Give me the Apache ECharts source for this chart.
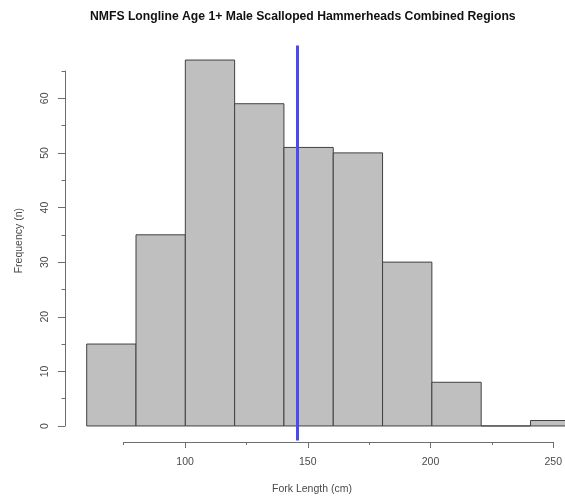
<!DOCTYPE html>
<html>
<head>
<meta charset="utf-8">
<script src="https://cdn.jsdelivr.net/npm/echarts@6/dist/echarts.min.js"></script>
<style>
  html, body { margin: 0; padding: 0; background: #fff; }
  #chart { width: 565px; height: 499px; }
</style>
</head>
<body>
<div id="chart"></div>
<script>
// histogram bins (fork length, cm) and counts
const binStarts = [60, 80, 100, 120, 140, 160, 180, 200, 220, 240];
const binEnds = [80, 100, 120, 140, 160, 180, 200, 220, 240, 260];
const counts = [15, 35, 67, 59, 51, 50, 30, 8, 0, 1];
const meanLength = 145.4;

const yMajorTicks = [0, 10, 20, 30, 40, 50, 60];
const yMinorTicks = [5, 15, 25, 35, 45, 55, 65];
const xMajorTicks = [100, 150, 200, 250];
const xMinorTicks = [75, 125, 175, 225];

const font = "'Liberation Sans', Arial, sans-serif";
const axisGrey = '#6e6e6e';
const labelGrey = '#4a4a4a';

const histData = binStarts.map((s, i) => [s, binEnds[i], counts[i]]);
const yPad = 0.04 * Math.max(...counts);

const myChart = echarts.init(document.getElementById('chart'));

const option = {
  animation: false,
  backgroundColor: '#fff',
  title: {
    text: 'NMFS Longline Age 1+ Male Scalloped Hammerheads Combined Regions',
    left: 90,
    top: 11,
    padding: 0,
    textStyle: { fontFamily: font, fontSize: 12.2, fontWeight: 'bold', color: '#111' },
  },
  graphic: [
    {
      type: 'text', left: 272, top: 484,
      style: { text: 'Fork Length (cm)', font: '10.5px ' + font, fill: labelGrey },
    },
    {
      type: 'text', left: 14, top: 208, rotation: Math.PI / 2,
      style: { text: 'Frequency (n)', font: '10.5px ' + font, fill: labelGrey },
    },
  ],
  grid: [
    // plot region for bars
    { left: 86.7, width: 478.3, top: 45.4, bottom: 58.4 },
    // visible x axis
    { left: 123.7, right: 10, top: 71, bottom: 57 },
    // visible y axis
    { left: 65, width: 100, top: 71, bottom: 73 },
  ],
  xAxis: [
    { gridIndex: 0, type: 'value', min: 60, max: 254, show: false },
    {
      gridIndex: 1, type: 'value', min: 75, max: 250, position: 'bottom',
      splitLine: { show: false },
      axisLine: { show: true, lineStyle: { color: axisGrey, width: 1 } },
      axisTick: { show: true, length: 6, customValues: xMajorTicks, lineStyle: { color: axisGrey } },
      axisLabel: { customValues: xMajorTicks, margin: 15, fontFamily: font, fontSize: 10.5, color: labelGrey },
    },
    {
      gridIndex: 1, type: 'value', min: 75, max: 250, position: 'bottom',
      splitLine: { show: false },
      axisLine: { show: false },
      axisTick: { show: true, length: 3, customValues: xMinorTicks, lineStyle: { color: axisGrey } },
      axisLabel: { show: false },
    },
    { gridIndex: 2, type: 'value', show: false },
  ],
  yAxis: [
    { gridIndex: 0, type: 'value', min: -yPad, max: Math.max(...counts) + yPad, show: false },
    { gridIndex: 1, type: 'value', show: false },
    {
      gridIndex: 2, type: 'value', min: 0, max: 65, position: 'left',
      splitLine: { show: false },
      axisLine: { show: true, lineStyle: { color: axisGrey, width: 1 } },
      axisTick: { show: true, length: 7, customValues: yMajorTicks, lineStyle: { color: axisGrey } },
      axisLabel: { customValues: yMajorTicks, rotate: 90, margin: 14, fontFamily: font, fontSize: 10.5, color: labelGrey },
    },
    {
      gridIndex: 2, type: 'value', min: 0, max: 65, position: 'left',
      splitLine: { show: false },
      axisLine: { show: false },
      axisTick: { show: true, length: 3.5, customValues: yMinorTicks, lineStyle: { color: axisGrey } },
      axisLabel: { show: false },
    },
  ],
  series: [
    {
      type: 'custom',
      xAxisIndex: 0,
      yAxisIndex: 0,
      data: histData,
      encode: { x: [0, 1], y: 2 },
      renderItem: (params, api) => {
        const p0 = api.coord([api.value(0), 0]);
        const p1 = api.coord([api.value(1), api.value(2)]);
        return {
          type: 'rect',
          shape: { x: p0[0], y: p1[1], width: p1[0] - p0[0], height: p0[1] - p1[1] },
          style: { fill: '#bfbfbf', stroke: '#404040', lineWidth: 1 },
        };
      },
      markLine: {
        silent: true,
        symbol: 'none',
        label: { show: false },
        lineStyle: { color: '#4a4af2', width: 3, type: 'solid' },
        data: [{ xAxis: meanLength }],
      },
    },
  ],
};

myChart.setOption(option);
</script>
</body>
</html>
